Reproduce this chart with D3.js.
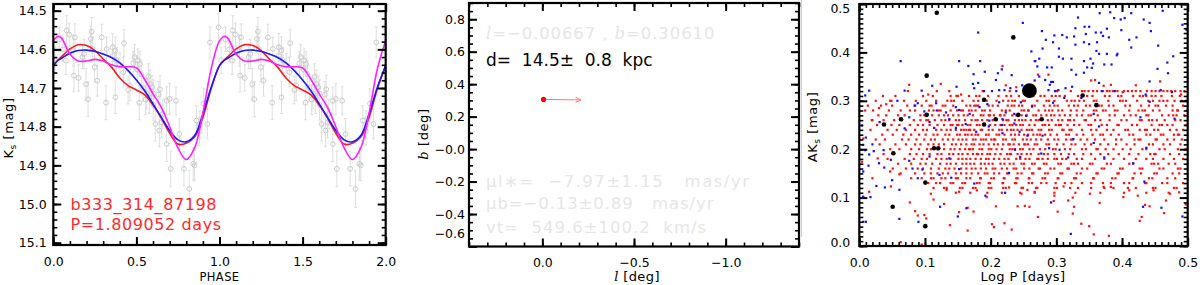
<!DOCTYPE html>
<html>
<head>
<meta charset="utf-8">
<script src="https://cdn.jsdelivr.net/npm/d3@7"></script>
<style>
body { margin: 0; background: #fff; }
svg { display: block; font-family: "DejaVu Sans", sans-serif; }
text { white-space: pre; }
</style>
</head>
<body>
<svg id="chart" width="1200" height="285"></svg>
<script>
/*
Data
*/
// left panel: phased Ks light curve and three fits
var fitPhase = [0, .03, .05, .10, .15, .20, .25, .30, .35, .40, .45, .50, .55, .60, .65, .70, .75, .80, .85, .90, .95, 1.0];
var fitBlue = [14.642, 14.628, 14.623, 14.610, 14.603, 14.602, 14.605, 14.612, 14.621, 14.635, 14.655, 14.679, 14.707, 14.741, 14.776, 14.810, 14.834, 14.839, 14.823, 14.767, 14.698, 14.642];
var fitRed = [14.642, 14.627, 14.619, 14.599, 14.588, 14.590, 14.603, 14.625, 14.646, 14.674, 14.694, 14.705, 14.718, 14.744, 14.778, 14.817, 14.845, 14.843, 14.827, 14.776, 14.702, 14.642];
var fitMagenta = [14.578, 14.566, 14.571, 14.612, 14.630, 14.630, 14.626, 14.630, 14.640, 14.645, 14.645, 14.648, 14.678, 14.715, 14.750, 14.800, 14.855, 14.885, 14.855, 14.765, 14.650, 14.578];

var obsPhase = [0.036, 0.080, 0.096, 0.130, 0.120, 0.076, 0.124, 0.152, 0.176, 0.185, 0.197, 0.209, 0.225, 0.231, 0.237, 0.249, 0.265, 0.291, 0.317, 0.321, 0.357, 0.357, 0.373, 0.373, 0.381, 0.401, 0.421, 0.425, 0.461, 0.481, 0.489, 0.505, 0.509, 0.517, 0.521, 0.529, 0.562, 0.572, 0.578, 0.582, 0.594, 0.602, 0.602, 0.614, 0.634, 0.638, 0.642, 0.650, 0.658, 0.682, 0.682, 0.706, 0.738, 0.758, 0.786, 0.818, 0.842, 0.850, 0.862, 0.882, 0.927, 0.943, 0.995, 0.010, 0.058, 0.450, 0.540, 0.555, 0.700, 0.880, 0.905];
var obsMag = [14.574, 14.551, 14.562, 14.569, 14.603, 14.629, 14.668, 14.674, 14.620, 14.612, 14.690, 14.729, 14.573, 14.554, 14.599, 14.646, 14.681, 14.569, 14.738, 14.599, 14.595, 14.617, 14.603, 14.724, 14.628, 14.640, 14.659, 14.584, 14.693, 14.636, 14.620, 14.652, 14.629, 14.738, 14.638, 14.664, 14.714, 14.671, 14.724, 14.690, 14.698, 14.714, 14.743, 14.793, 14.717, 14.810, 14.703, 14.789, 14.767, 14.733, 14.845, 14.909, 14.733, 14.819, 14.909, 14.961, 14.896, 14.900, 14.784, 14.795, 14.793, 14.582, 14.543, 14.628, 14.600, 14.705, 14.700, 14.730, 14.728, 14.812, 14.740];
var obsErr = [0.032, 0.038, 0.030, 0.035, 0.040, 0.036, 0.042, 0.034, 0.030, 0.038, 0.041, 0.045, 0.033, 0.036, 0.030, 0.038, 0.040, 0.034, 0.044, 0.031, 0.036, 0.030, 0.035, 0.042, 0.033, 0.030, 0.038, 0.035, 0.040, 0.030, 0.032, 0.034, 0.030, 0.044, 0.032, 0.036, 0.040, 0.034, 0.042, 0.036, 0.030, 0.035, 0.040, 0.044, 0.034, 0.042, 0.036, 0.040, 0.038, 0.036, 0.045, 0.046, 0.036, 0.040, 0.044, 0.048, 0.042, 0.040, 0.038, 0.036, 0.038, 0.040, 0.036, 0.034, 0.032, 0.036, 0.034, 0.038, 0.040, 0.036, 0.038];

var starName = "b333_314_87198";
var starPeriod = "P=1.809052 days";

// middle panel: position and proper motion
var starL = -0.00667, starB = 0.30610;
var pmL = -7.97, pmB = -0.13;
var infoFaint1 = ["l", "=−0.00667 , ", "b", "=0.30610"];
var infoDist = "d=  14.5±  0.8  kpc";
var infoPM = ["μl∗=  −7.97±1.15   mas/yr", "μb=−0.13±0.89   mas/yr", "vt=  549.6±100.2  km/s"];

// right panel: extinction vs log period
var cepLogP = [0.118, 0.2345, 0.1026, 0.259, 0.340, 0.190, 0.361, 0.1026, 0.242, 0.0376, 0.0635, 0.2077, 0.2777, 0.190, 0.1137, 0.1203, 0.0518, 0.1005, 0.0508, 0.1005];
var cepAK = [0.482, 0.431, 0.352, 0.321, 0.311, 0.302, 0.291, 0.271, 0.271, 0.251, 0.262, 0.262, 0.262, 0.251, 0.202, 0.202, 0.1915, 0.131, 0.081, 0.041];
var cepBig = [0, 0, 0, 1, 0, 0, 0, 0, 0, 0, 0, 0, 0, 0, 0, 0, 0, 0, 0, 0];

var blueStars = [
  [.181,.441],[.063,.382],[.152,.382],[.166,.372],[.184,.382],[.191,.360],[.174,.355],[.211,.357],[.217,.365],[.232,.353],
  [.208,.343],[.249,.461],[.173,.335],[.181,.337],[.111,.331],[.069,.321],[.095,.321],[.148,.329],[.175,.326],[.190,.320],
  [.202,.320],[.213,.322],[.221,.322],[.230,.326],[.239,.320],[.248,.332],[.015,.321],[.009,.311],[.058,.300],[.089,.295],
  [.085,.290],[.117,.295],[.147,.287],[.118,.280],[.132,.276],[.099,.278],[.152,.281],[.168,.273],[.183,.287],[.195,.293],
  [.213,.297],[.223,.276],[.236,.273],[.246,.297],[.031,.256],[.076,.266],[.107,.256],[.137,.262],[.162,.252],[.198,.259],
  [.218,.262],[.236,.253],
  [.382,.483],[.366,.481],[.414,.481],[.462,.486],[.388,.471],[.398,.468],[.404,.471],[.433,.468],[.442,.461],[.333,.472],
  [.492,.457],[.343,.453],[.350,.453],[.329,.450],[.377,.449],[.399,.446],[.444,.444],[.498,.447],[.278,.444],[.297,.435],
  [.309,.436],[.316,.431],[.327,.433],[.345,.438],[.360,.441],[.368,.441],[.371,.434],[.380,.431],[.284,.426],[.295,.421],
  [.342,.421],[.411,.426],[.422,.431],[.329,.416],[.350,.417],[.362,.421],[.304,.408],[.279,.408],[.414,.410],[.455,.414],
  [.262,.402],[.361,.403],[.365,.397],[.377,.397],[.393,.397],[.392,.394],[.478,.392],[.304,.391],[.310,.387],[.323,.387],
  [.352,.387],[.274,.387],[.268,.382],[.342,.382],[.356,.377],[.373,.375],[.384,.375],[.469,.379],[.286,.369],[.293,.369],
  [.271,.371],[.323,.364],[.354,.368],[.347,.369],[.330,.354],[.342,.358],[.470,.357],[.454,.366],[.274,.350],[.283,.343],
  [.292,.339],[.295,.339],[.290,.333],[.267,.342],[.365,.337],[.442,.340],[.324,.329],[.314,.326],[.303,.322],[.298,.320],
  [.288,.322],[.369,.320],[.389,.320],[.436,.313],[.459,.322],[.476,.318],[.312,.306],[.338,.306],[.442,.298],[.263,.288],
  [.357,.273],[.295,.296],[.254,.269],[.428,.266],[.480,.263],
  [.004,.249],[.006,.209],[.010,.224],[.020,.210],[.009,.198],[.015,.189],[.022,.196],[.037,.198],[.030,.171],[.038,.162],
  [.006,.154],[.014,.166],[.048,.178],[.050,.136],[.026,.124],[.039,.121],[.061,.116],[.017,.101],[.006,.102],[.006,.050],
  [.010,.050],[.061,.056],[.090,.050],[.076,.176],[.081,.160],[.089,.140],[.096,.158],[.122,.147],[.123,.081],[.107,.185],
  [.137,.181],[.140,.141],[.152,.159],[.175,.129],[.192,.104],[.150,.061],[.163,.078],[.222,.110],[.228,.151],[.237,.199],
  [.245,.184],[.218,.233],[.178,.236],[.147,.244],[.114,.244],[.197,.247],[.069,.243],[.244,.236],[.217,.250],
  [.365,.247],[.256,.228],[.279,.228],[.326,.221],[.357,.213],[.289,.202],[.305,.199],[.437,.203],[.277,.191],[.318,.183],
  [.373,.183],[.417,.171],[.434,.133],[.292,.090],[.460,.079],[.492,.061],[.322,.025],[.432,.081]
];

var redSparse = [
  [.076,.333],[.124,.335],[.105,.313],[.155,.313],[.137,.320],[.218,.372],[.223,.332],[.239,.328],[.049,.300],[.041,.293],
  [.030,.285],[.020,.260],[.009,.280],[.267,.382],[.272,.354],[.288,.354],[.353,.342],[.359,.343],[.372,.331],[.383,.333],
  [.421,.332],[.458,.340],[.401,.318],[.490,.313],
  [.020,.140],[.047,.154],[.061,.148],[.048,.123],[.077,.090],[.085,.072],[.089,.063],[.099,.064],[.102,.057],[.095,.003],
  [.063,.008],[.109,.108],[.113,.096],[.129,.087],[.138,.043],[.152,.070],[.165,.032],[.165,.079],[.174,.071],[.194,.101],
  [.202,.045],[.208,.082],[.205,.039],[.221,.047],[.232,.034],[.241,.082],[.247,.108],[.133,.116],[.152,.112],[.179,.115],
  [.228,.121],[.006,.222],[.004,.174],[.028,.181],[.015,.112],
  [.256,.116],[.267,.112],[.252,.083],[.259,.081],[.272,.060],[.297,.104],[.296,.093],[.302,.071],[.311,.123],[.318,.094],
  [.325,.100],[.327,.081],[.325,.067],[.338,.046],[.350,.041],[.357,.024],[.351,.108],[.366,.089],[.372,.122],[.380,.021],
  [.383,.122],[.402,.101],[.411,.115],[.424,.104],[.435,.085],[.442,.082],[.427,.052],[.430,.060],[.448,.115],[.464,.068],
  [.467,.094],[.473,.108],[.487,.111],[.497,.086]
];

// dense red band: AK is catalogued to 0.01 mag, so stars sit on rows; log P in units of 0.001
var redRowAK = [.32, .31, .30, .29, .28, .27, .26, .25, .24, .23, .22, .21, .20, .19, .18, .17, .16, .15, .14, .13, .12, .11];
var redRowLogP = [
  [74, 118, 188, 229, 261, 301, 322, 339, 343, 349, 356, 362, 371, 377, 381, 386, 393, 403, 409, 415, 421, 428, 438, 445, 451, 457, 463, 469, 475, 481, 489, 495],
  [36, 55, 97, 112, 139, 148, 150, 167, 178, 183, 196, 212, 224, 231, 243, 265, 276, 282, 293, 299, 305, 313, 333, 347, 355, 374, 381, 394, 399, 417, 427, 432, 437, 445, 451, 460, 476, 488],
  [25, 47, 68, 86, 102, 117, 134, 140, 144, 157, 174, 181, 189, 194, 209, 219, 227, 233, 237, 249, 252, 271, 285, 289, 297, 316, 323, 328, 335, 342, 357, 361, 379, 397, 401, 406, 423, 440, 447, 457, 463, 469, 480, 491, 497],
  [13, 33, 50, 73, 84, 95, 107, 110, 127, 131, 143, 163, 169, 175, 178, 181, 197, 203, 211, 226, 232, 236, 243, 248, 263, 267, 281, 290, 297, 302, 319, 327, 333, 345, 351, 365, 369, 380, 387, 405, 412, 429, 441, 451, 455, 467, 477, 493],
  [21, 45, 63, 77, 85, 106, 113, 121, 124, 139, 149, 155, 158, 167, 171, 177, 187, 191, 199, 217, 223, 229, 247, 251, 257, 258, 273, 283, 289, 294, 303, 309, 322, 331, 341, 357, 361, 371, 375, 389, 393, 411, 425, 431, 435, 447, 457, 477, 484, 485, 499],
  [29, 41, 59, 69, 93, 99, 101, 111, 121, 129, 135, 143, 151, 159, 165, 173, 185, 189, 197, 199, 205, 214, 215, 221, 233, 239, 247, 255, 265, 269, 277, 285, 292, 297, 305, 313, 321, 331, 339, 349, 353, 363, 381, 389, 403, 413, 421, 437, 440, 461, 471, 478, 483, 495],
  [19, 37, 53, 65, 83, 93, 102, 105, 115, 125, 131, 137, 147, 152, 161, 171, 177, 180, 187, 195, 203, 209, 219, 224, 227, 237, 243, 248, 253, 261, 269, 273, 287, 293, 303, 309, 318, 321, 327, 343, 345, 359, 367, 381, 399, 407, 427, 430, 441, 446, 453, 465, 481, 489],
  [27, 49, 61, 77, 89, 97, 107, 119, 129, 139, 142, 149, 151, 157, 165, 169, 179, 183, 191, 199, 207, 215, 221, 229, 233, 239, 245, 249, 259, 267, 279, 283, 289, 299, 304, 307, 317, 327, 335, 349, 353, 369, 377, 393, 395, 415, 423, 445, 457, 461, 469, 477, 497],
  [17, 43, 57, 71, 85, 97, 103, 117, 125, 133, 139, 147, 155, 159, 163, 167, 169, 175, 185, 187, 197, 203, 213, 217, 225, 231, 235, 241, 247, 255, 259, 263, 273, 277, 289, 293, 309, 311, 320, 323, 339, 353, 361, 377, 387, 405, 409, 427, 435, 438, 449, 455, 473, 483, 493],
  [35, 51, 67, 79, 91, 101, 113, 119, 131, 137, 149, 153, 161, 165, 171, 177, 181, 193, 197, 209, 213, 221, 231, 237, 243, 251, 257, 265, 271, 275, 283, 291, 301, 315, 319, 331, 341, 355, 367, 371, 383, 395, 411, 417, 437, 443, 459, 463, 479, 485, 487],
  [25, 39, 65, 75, 87, 99, 109, 115, 127, 135, 143, 151, 157, 163, 173, 177, 185, 189, 193, 201, 205, 207, 219, 223, 233, 237, 249, 255, 261, 269, 277, 287, 297, 303, 315, 322, 325, 337, 347, 359, 373, 391, 399, 419, 425, 428, 451, 453, 469, 479, 491],
  [31, 55, 71, 85, 93, 105, 113, 121, 129, 141, 147, 155, 163, 171, 175, 183, 189, 197, 205, 211, 219, 227, 229, 235, 243, 251, 253, 257, 267, 271, 285, 289, 301, 311, 323, 329, 343, 353, 367, 379, 391, 407, 419, 441, 447, 463, 473, 489],
  [47, 61, 79, 91, 103, 109, 119, 129, 139, 145, 153, 161, 167, 169, 173, 183, 187, 197, 201, 209, 217, 229, 233, 237, 245, 249, 259, 265, 275, 283, 295, 299, 313, 321, 339, 345, 361, 363, 375, 387, 401, 413, 431, 437, 457, 465, 485, 497],
  [37, 53, 77, 87, 97, 107, 119, 125, 137, 143, 151, 157, 165, 173, 179, 181, 187, 195, 199, 207, 215, 225, 229, 231, 241, 247, 255, 261, 273, 281, 287, 297, 307, 319, 327, 341, 353, 367, 379, 395, 411, 425, 443, 449, 451, 473, 487],
  [43, 69, 83, 95, 103, 117, 125, 133, 139, 151, 157, 163, 169, 177, 185, 193, 197, 205, 213, 221, 227, 239, 245, 253, 259, 271, 273, 279, 287, 297, 301, 309, 315, 331, 339, 359, 373, 387, 403, 421, 437, 447, 463, 479, 493],
  [59, 79, 93, 101, 111, 123, 133, 139, 147, 157, 163, 169, 175, 185, 191, 197, 203, 215, 221, 229, 235, 247, 251, 263, 267, 281, 285, 303, 307, 323, 327, 333, 351, 355, 377, 383, 411, 417, 445, 449, 455, 471, 481],
  [51, 71, 89, 97, 109, 121, 131, 137, 145, 155, 163, 171, 177, 185, 193, 203, 207, 217, 225, 235, 239, 251, 259, 273, 275, 291, 297, 317, 319, 339, 347, 369, 373, 397, 401, 427, 431, 457, 463, 485, 489],
  [63, 85, 99, 109, 119, 127, 135, 147, 155, 163, 171, 181, 191, 195, 205, 213, 225, 227, 241, 247, 263, 265, 283, 287, 306, 309, 331, 337, 361, 363, 393, 395, 419, 429, 449, 453, 477, 487],
  [79, 95, 109, 113, 125, 131, 147, 150, 163, 169, 184, 185, 201, 205, 220, 221, 239, 241, 258, 259, 279, 283, 302, 303, 327, 330, 356, 357, 385, 390, 416, 417, 441, 446, 469, 481],
  [105, 117, 123, 139, 143, 157, 161, 179, 183, 197, 199, 218, 219, 237, 239, 258, 263, 277, 285, 299, 313, 323, 339, 353, 371, 383, 403, 411, 435, 437, 461, 469, 493],
  [113, 129, 133, 153, 157, 173, 177, 197, 201, 219, 223, 247, 249, 269, 271, 297, 301, 321, 333, 353, 373, 387, 409, 421, 447, 451, 479, 483],
  [147, 169, 195, 217, 245, 267, 297, 329, 367, 403, 437, 471]
];

/*
Helpers
*/
var svg = d3.select("#chart");
svg.append("rect").attr("width", 1200).attr("height", 285).attr("fill", "#fff");

var fmt1 = d3.format(".1f");
var minus = (d) => (d < 0 ? "−" : "") + fmt1(Math.abs(d));

// IDL-style box: inward major/minor ticks on all four sides, labels on left and bottom
function frame(x, y, o) {
    var g = svg.append("g");
    var x0 = x.range()[0], x1 = x.range()[1], yb = y.range()[0], yt = y.range()[1];
    var sides = [
        [() => d3.axisTop(x), `translate(0,${yb})`, o.xMajor, o.xMinor],
        [() => d3.axisBottom(x), `translate(0,${yt})`, o.xMajor, o.xMinor],
        [() => d3.axisRight(y), `translate(${x0},0)`, o.yMajor, o.yMinor],
        [() => d3.axisLeft(y), `translate(${x1},0)`, o.yMajor, o.yMinor]
    ];
    sides.forEach((s) => {
        [[s[2], 8, 2], [s[3], 4, 1.6]].forEach((t) => {
            g.append("g").attr("transform", s[1])
                .call(s[0]().tickValues(t[0]).tickSize(t[1]).tickFormat(""))
                .call((a) => a.select(".domain").remove())
                .selectAll("line").attr("stroke", "#000").attr("stroke-width", t[2]);
        });
    });
    g.append("rect").attr("x", x0).attr("y", yt).attr("width", x1 - x0).attr("height", yb - yt)
        .attr("fill", "none").attr("stroke", "#000").attr("stroke-width", 2.2);

    var xl = g.append("g").attr("transform", `translate(0,${yb})`)
        .call(d3.axisBottom(x).tickValues(o.xMajor).tickSize(0).tickPadding(12).tickFormat(o.xFmt));
    var yl = g.append("g").attr("transform", `translate(${x0},0)`)
        .call(d3.axisLeft(y).tickValues(o.yMajor).tickSize(0).tickPadding(o.yPad).tickFormat(o.yFmt));
    [xl, yl].forEach((a) => {
        a.select(".domain").remove();
        a.attr("font-family", null).attr("font-size", 12.5);
        a.selectAll("text").attr("fill", "#000");
    });
    if (o.yShift) yl.selectAll("text").attr("dy", (d) => (0.32 + o.yShift(d) / 12.5) + "em");
    return g;
}

function clipTo(id, x, y) {
    svg.append("clipPath").attr("id", id).append("rect")
        .attr("x", x.range()[0]).attr("y", y.range()[1])
        .attr("width", x.range()[1] - x.range()[0]).attr("height", y.range()[0] - y.range()[1]);
}

function yTitle(cx, cy, parts) {
    var t = svg.append("text").attr("transform", `translate(${cx},${cy}) rotate(-90)`)
        .attr("text-anchor", "middle").attr("font-size", 13).attr("letter-spacing", 0.6);
    parts.forEach((p) => {
        var s = t.append("tspan").text(p.t);
        if (p.it) s.attr("font-style", "italic").attr("font-family", "DejaVu Serif");
        if (p.sub) s.attr("font-size", 9).attr("dy", 3);
        if (p.up) s.attr("dy", -3);
    });
}

function xTitle(cx, cy, parts, size) {
    var t = svg.append("text").attr("x", cx).attr("y", cy)
        .attr("text-anchor", "middle").attr("font-size", size || 13).attr("letter-spacing", 0.4);
    parts.forEach((p) => {
        var s = t.append("tspan").text(p.t);
        if (p.it) s.attr("font-style", "italic").attr("font-family", "DejaVu Serif");
    });
}

/*
Left panel: light curve
*/
var xL = d3.scaleLinear().domain([0, 2]).range([53.3, 385.7]);
var yL = d3.scaleLinear().domain([15.106, 14.4827]).range([245, 4]);
clipTo("clipL", xL, yL);

var obs = [];
[0, 1].forEach((k) => obsPhase.forEach((p, i) => obs.push({ p: p + k, m: obsMag[i], e: obsErr[i] })));

var gL = svg.append("g").attr("clip-path", "url(#clipL)");
var eb = gL.append("g").attr("stroke", "#dedede").attr("stroke-width", 1);
eb.selectAll("line.bar").data(obs).join("line").attr("class", "bar")
    .attr("x1", (d) => xL(d.p)).attr("x2", (d) => xL(d.p))
    .attr("y1", (d) => yL(d.m - d.e)).attr("y2", (d) => yL(d.m + d.e));
eb.selectAll("line.cap1").data(obs).join("line").attr("class", "cap1")
    .attr("x1", (d) => xL(d.p) - 1.5).attr("x2", (d) => xL(d.p) + 1.5)
    .attr("y1", (d) => yL(d.m - d.e)).attr("y2", (d) => yL(d.m - d.e));
eb.selectAll("line.cap2").data(obs).join("line").attr("class", "cap2")
    .attr("x1", (d) => xL(d.p) - 1.5).attr("x2", (d) => xL(d.p) + 1.5)
    .attr("y1", (d) => yL(d.m + d.e)).attr("y2", (d) => yL(d.m + d.e));
gL.append("g").selectAll("circle").data(obs).join("circle")
    .attr("cx", (d) => xL(d.p)).attr("cy", (d) => yL(d.m)).attr("r", 2.4)
    .attr("fill", "none").attr("stroke", "#c6c6c6").attr("stroke-width", 0.9);

var fitLine = d3.line().x((d) => xL(d[0])).y((d) => yL(d[1])).curve(d3.curveCatmullRom);
[[fitRed, "#ff1a1a"], [fitBlue, "#1a1aff"], [fitMagenta, "#ff20ff"]].forEach((f) => {
    var pts = [];
    [0, 1].forEach((k) => fitPhase.forEach((p, i) => { if (!(k === 1 && i === 0)) pts.push([p + k, f[0][i]]); }));
    gL.append("path").datum(pts).attr("d", fitLine)
        .attr("fill", "none").attr("stroke", f[1]).attr("stroke-width", 1.6);
});

frame(xL, yL, {
    xMajor: [0, 0.5, 1, 1.5, 2], xMinor: d3.range(0, 2.001, 0.1),
    yMajor: [14.5, 14.6, 14.7, 14.8, 14.9, 15.0, 15.1], yMinor: d3.range(14.5, 15.101, 0.02),
    xFmt: fmt1, yFmt: fmt1, yPad: 6.6
});

svg.append("text").attr("x", 70.5).attr("y", 210).attr("font-size", 16).attr("fill", "#ff2a2a")
    .attr("letter-spacing", 0.6).text(starName);
svg.append("text").attr("x", 70.5).attr("y", 230).attr("font-size", 16).attr("fill", "#ff2a2a")
    .attr("letter-spacing", 0.6).text(starPeriod);

yTitle(13, 128, [{ t: "K" }, { t: "s", sub: true }, { t: " [mag]", up: true }]);
xTitle(219.5, 280.5, [{ t: "PHASE" }], 11.5);

/*
Middle panel: sky position
*/
var xM = d3.scaleLinear().domain([0.4, -1.4]).range([469, 799]);
var yM = d3.scaleLinear().domain([-0.6, 0.9]).range([246.5, 3]);

frame(xM, yM, {
    xMajor: [0, -0.5, -1.0], xMinor: d3.range(0.4, -1.401, -0.1),
    yMajor: [-0.6, -0.4, -0.2, -0.0, 0.2, 0.4, 0.6, 0.8], yMinor: d3.range(-0.6, 0.901, 0.05),
    xFmt: minus, yFmt: (d) => (d <= 0 ? "−" : "") + fmt1(Math.abs(d)), yPad: 4,
    yShift: (d) => (d < -0.55 ? -13 : 0)
});

var faint = "#e6e6e6";
var t1 = svg.append("text").attr("x", 486).attr("y", 39).attr("font-size", 16.5).attr("fill", faint).attr("letter-spacing", 0.9);
infoFaint1.forEach((s, i) => {
    var sp = t1.append("tspan").text(s);
    if (i % 2 === 0) sp.attr("font-style", "italic").attr("font-family", "DejaVu Serif");
});
svg.append("text").attr("x", 486).attr("y", 66).attr("font-size", 17).attr("fill", "#000")
    .attr("letter-spacing", 0).text(infoDist);
infoPM.forEach((s, i) => {
    svg.append("text").attr("x", 486).attr("y", [186.5, 209, 233][i]).attr("font-size", 16.5)
        .attr("fill", faint).attr("letter-spacing", [1.5, 0.9, 1.0][i]).text(s);
});

// proper-motion arrow, 0.0256 deg per mas/yr
var arrowScale = 0.0256;
var ax0 = xM(starL), ay0 = yM(starB);
var ax1 = xM(starL + pmL * arrowScale), ay1 = yM(starB + pmB * arrowScale);
var ang = Math.atan2(ay1 - ay0, ax1 - ax0);
var head = [ang + 2.7, ang - 2.7].map((a) => [ax1 + 6 * Math.cos(a), ay1 + 6 * Math.sin(a)]);
svg.append("path")
    .attr("d", `M${ax0},${ay0}L${ax1},${ay1}M${head[0][0]},${head[0][1]}L${ax1},${ay1}L${head[1][0]},${head[1][1]}`)
    .attr("fill", "none").attr("stroke", "#ff7777").attr("stroke-width", 1);
svg.append("circle").attr("cx", ax0).attr("cy", ay0).attr("r", 2.6).attr("fill", "#ff0000");

yTitle(428, 134, [{ t: "b", it: true }, { t: " [deg]" }]);
xTitle(637, 281, [{ t: "l", it: true }, { t: " [deg]" }]);

/*
Right panel: AKs vs log P
*/
var xR = d3.scaleLinear().domain([0, 0.5]).range([859.3, 1187.7]);
var yR = d3.scaleLinear().domain([0, 0.5]).range([246, 4]);
clipTo("clipR", xR, yR);

// thin grey rule at the left edge of the panel
svg.append("line").attr("x1", 801.5).attr("x2", 801.5).attr("y1", 0).attr("y2", 237)
    .attr("stroke", "#cfcfcf").attr("stroke-width", 1);

var redStars = redSparse.map((d) => ({ p: d[0], a: d[1] }));
redRowLogP.forEach((row, i) => row.forEach((v) => redStars.push({ p: v / 1000, a: redRowAK[i] })));

var gR = svg.append("g").attr("clip-path", "url(#clipR)");
gR.append("g").selectAll("rect").data(redStars).join("rect")
    .attr("x", (d) => xR(d.p) - 1.1).attr("y", (d) => yR(d.a) - 1.1)
    .attr("width", 2.2).attr("height", 2.2).attr("fill", "#ff1010");
gR.append("g").selectAll("rect").data(blueStars).join("rect")
    .attr("x", (d) => xR(d[0]) - 1.1).attr("y", (d) => yR(d[1]) - 1.1)
    .attr("width", 2.2).attr("height", 2.2).attr("fill", "#1010ff");
gR.append("g").selectAll("circle").data(cepLogP).join("circle")
    .attr("cx", (d) => xR(d)).attr("cy", (d, i) => yR(cepAK[i]))
    .attr("r", (d, i) => (cepBig[i] ? 7.4 : 2.3)).attr("fill", "#000");

frame(xR, yR, {
    xMajor: [0, 0.1, 0.2, 0.3, 0.4, 0.5], xMinor: d3.range(0, 0.501, 0.01),
    yMajor: [0, 0.1, 0.2, 0.3, 0.4, 0.5], yMinor: d3.range(0, 0.501, 0.01),
    xFmt: fmt1, yFmt: fmt1, yPad: 9,
    yShift: (d) => (d < 0.05 ? -4 : d > 0.45 ? 4 : 0)
});

yTitle(817, 127, [{ t: "AK" }, { t: "s", sub: true }, { t: " [mag]", up: true }]);
xTitle(1023, 281, [{ t: "Log P [days]" }]);
</script>
</body>
</html>
